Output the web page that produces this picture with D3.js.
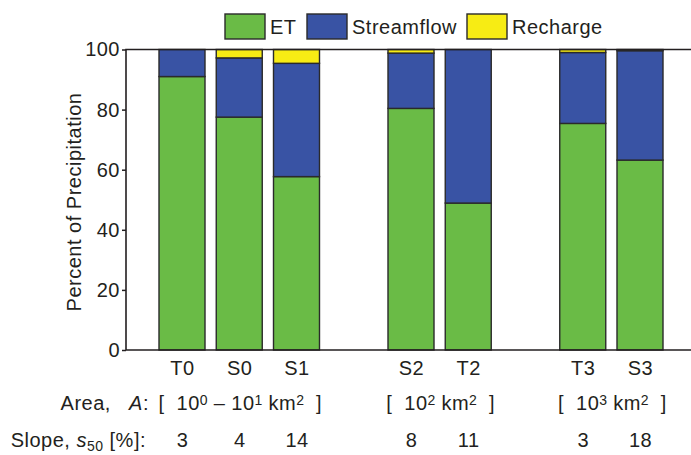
<!DOCTYPE html>
<html>
<head>
<meta charset="utf-8">
<script src="https://cdn.jsdelivr.net/npm/d3@7"></script>
<style>
body{margin:0;background:#fff}
svg text{font-family:Arial,"Liberation Sans",Helvetica,sans-serif;fill:#231f20;letter-spacing:0.5px}
</style>
</head>
<body>
<svg id="chart" width="691" height="455"></svg>
<script>
// catchments, grouped by area class
let groups=[["T0","S0","S1"],["S2","T2"],["T3","S3"]]
let et=[91,77.5,57.7,80.4,48.9,75.4,63.2]
let streamflow=[9,19.7,37.7,18.4,51.1,23.6,36.4]
let recharge=[0,2.8,4.6,1.2,0,1.0,0.4]
let slopes=[3,4,14,8,11,3,18]
let series=["ET","Streamflow","Recharge"]
let colors={ET:"#6abb46",Streamflow:"#3953a4",Recharge:"#f7ec14"}
let yTicks=[0,20,40,60,80,100]

let svg=d3.select("#chart")
let pLeft=126, pTop=49.5, pBottom=350, pRight=691
let fs=20

// slot index for each bar, one empty slot between groups
let cats=[], slot=[], s=0
groups.forEach((g,gi)=>{
  g.forEach(c=>{cats.push(c);slot.push(s);s++})
  s++
})

let x=d3.scaleLinear().domain([0,8]).range([182,640])
let y=d3.scaleLinear().domain([0,100]).range([pBottom,pTop])
let bw=46

let rows=cats.map((c,i)=>({cat:c,ET:et[i],Streamflow:streamflow[i],Recharge:recharge[i]}))
let stacked=d3.stack().keys(series)(rows)

stacked.forEach(layer=>{
  svg.append("g").selectAll("rect")
  .data(layer)
  .enter()
  .append("rect")
  .attr("x",(d,i)=>x(slot[i])-bw/2)
  .attr("width",bw)
  .attr("y",d=>y(d[1]))
  .attr("height",d=>y(d[0])-y(d[1]))
  .attr("fill",colors[layer.key])
  .attr("stroke","#2a2a2a")
  .attr("stroke-width",1.4)
  .attr("display",d=>d[1]-d[0]>0?null:"none")
})

// axes
let yAxis=svg.append("g")
.attr("transform","translate("+pLeft+",0)")
.call(d3.axisLeft(y).tickValues(yTicks).tickSize(4).tickPadding(2))
yAxis.select(".domain").remove()
yAxis.selectAll("line").attr("stroke","#231f20").attr("stroke-width",1.5)
yAxis.selectAll("text").attr("font-size",fs)

svg.append("path")
.attr("d","M"+pRight+","+pTop+"H"+pLeft+"V"+pBottom+"H"+pRight)
.attr("fill","none").attr("stroke","#231f20").attr("stroke-width",1.6)

svg.append("text")
.attr("transform","translate(81,202) rotate(-90)")
.attr("text-anchor","middle")
.attr("font-size",fs)
.text("Percent of Precipitation")

// category labels
svg.append("g").selectAll("text")
.data(cats)
.enter()
.append("text")
.attr("x",(d,i)=>x(slot[i])+0.5)
.attr("y",375)
.attr("text-anchor","middle")
.attr("font-size",fs)
.text(d=>d)

// area row
svg.append("text").attr("x",149).attr("y",410).attr("text-anchor","end").attr("font-size",fs)
.html('Area,   <tspan font-style="italic">A</tspan>:').style("white-space","pre")

let areaLabels=[
  [["[  10",""],["0","sup"],[" – 10",""],["1","sup"],[" km",""],["2","sup"],["  ]",""]],
  [["[  10",""],["2","sup"],[" km",""],["2","sup"],["  ]",""]],
  [["[  10",""],["3","sup"],[" km",""],["2","sup"],["  ]",""]]
]
groups.forEach((g,gi)=>{
  let first=slot[cats.indexOf(g[0])], last=slot[cats.indexOf(g[g.length-1])]
  let t=svg.append("text")
  .attr("x",x((first+last)/2)+1).attr("y",410)
  .attr("text-anchor","middle").attr("font-size",fs)
  .style("white-space","pre")
  let up=false
  areaLabels[gi].forEach(p=>{
    let ts=t.append("tspan").text(p[0])
    if(p[1]=="sup"){ts.attr("font-size",14).attr("dy",up?0:-5).style("letter-spacing","0px");up=true}
    else{if(up){ts.attr("dy",5);up=false}}
  })
})

// slope row
let sl=svg.append("text").attr("x",146).attr("y",447).attr("text-anchor","end").attr("font-size",fs)
sl.append("tspan").text("Slope, ")
sl.append("tspan").attr("font-style","italic").text("s")
sl.append("tspan").attr("font-size",14).attr("dy",4).text("50")
sl.append("tspan").attr("dy",-4).text(" [%]:")

svg.append("g").selectAll("text")
.data(slopes)
.enter()
.append("text")
.attr("x",(d,i)=>x(slot[i])+0.5)
.attr("y",447)
.attr("text-anchor","middle")
.attr("font-size",fs)
.text(d=>d)

// legend
let leg=svg.append("g")
let legX=[225,307,467]
series.forEach((k,i)=>{
  leg.append("rect").attr("x",legX[i]).attr("y",14).attr("width",40).attr("height",25)
  .attr("fill",colors[k]).attr("stroke","#2a2a2a").attr("stroke-width",1.4)
  leg.append("text").attr("x",legX[i]+45).attr("y",33.5).attr("font-size",fs).text(k)
})
</script>
</body>
</html>
